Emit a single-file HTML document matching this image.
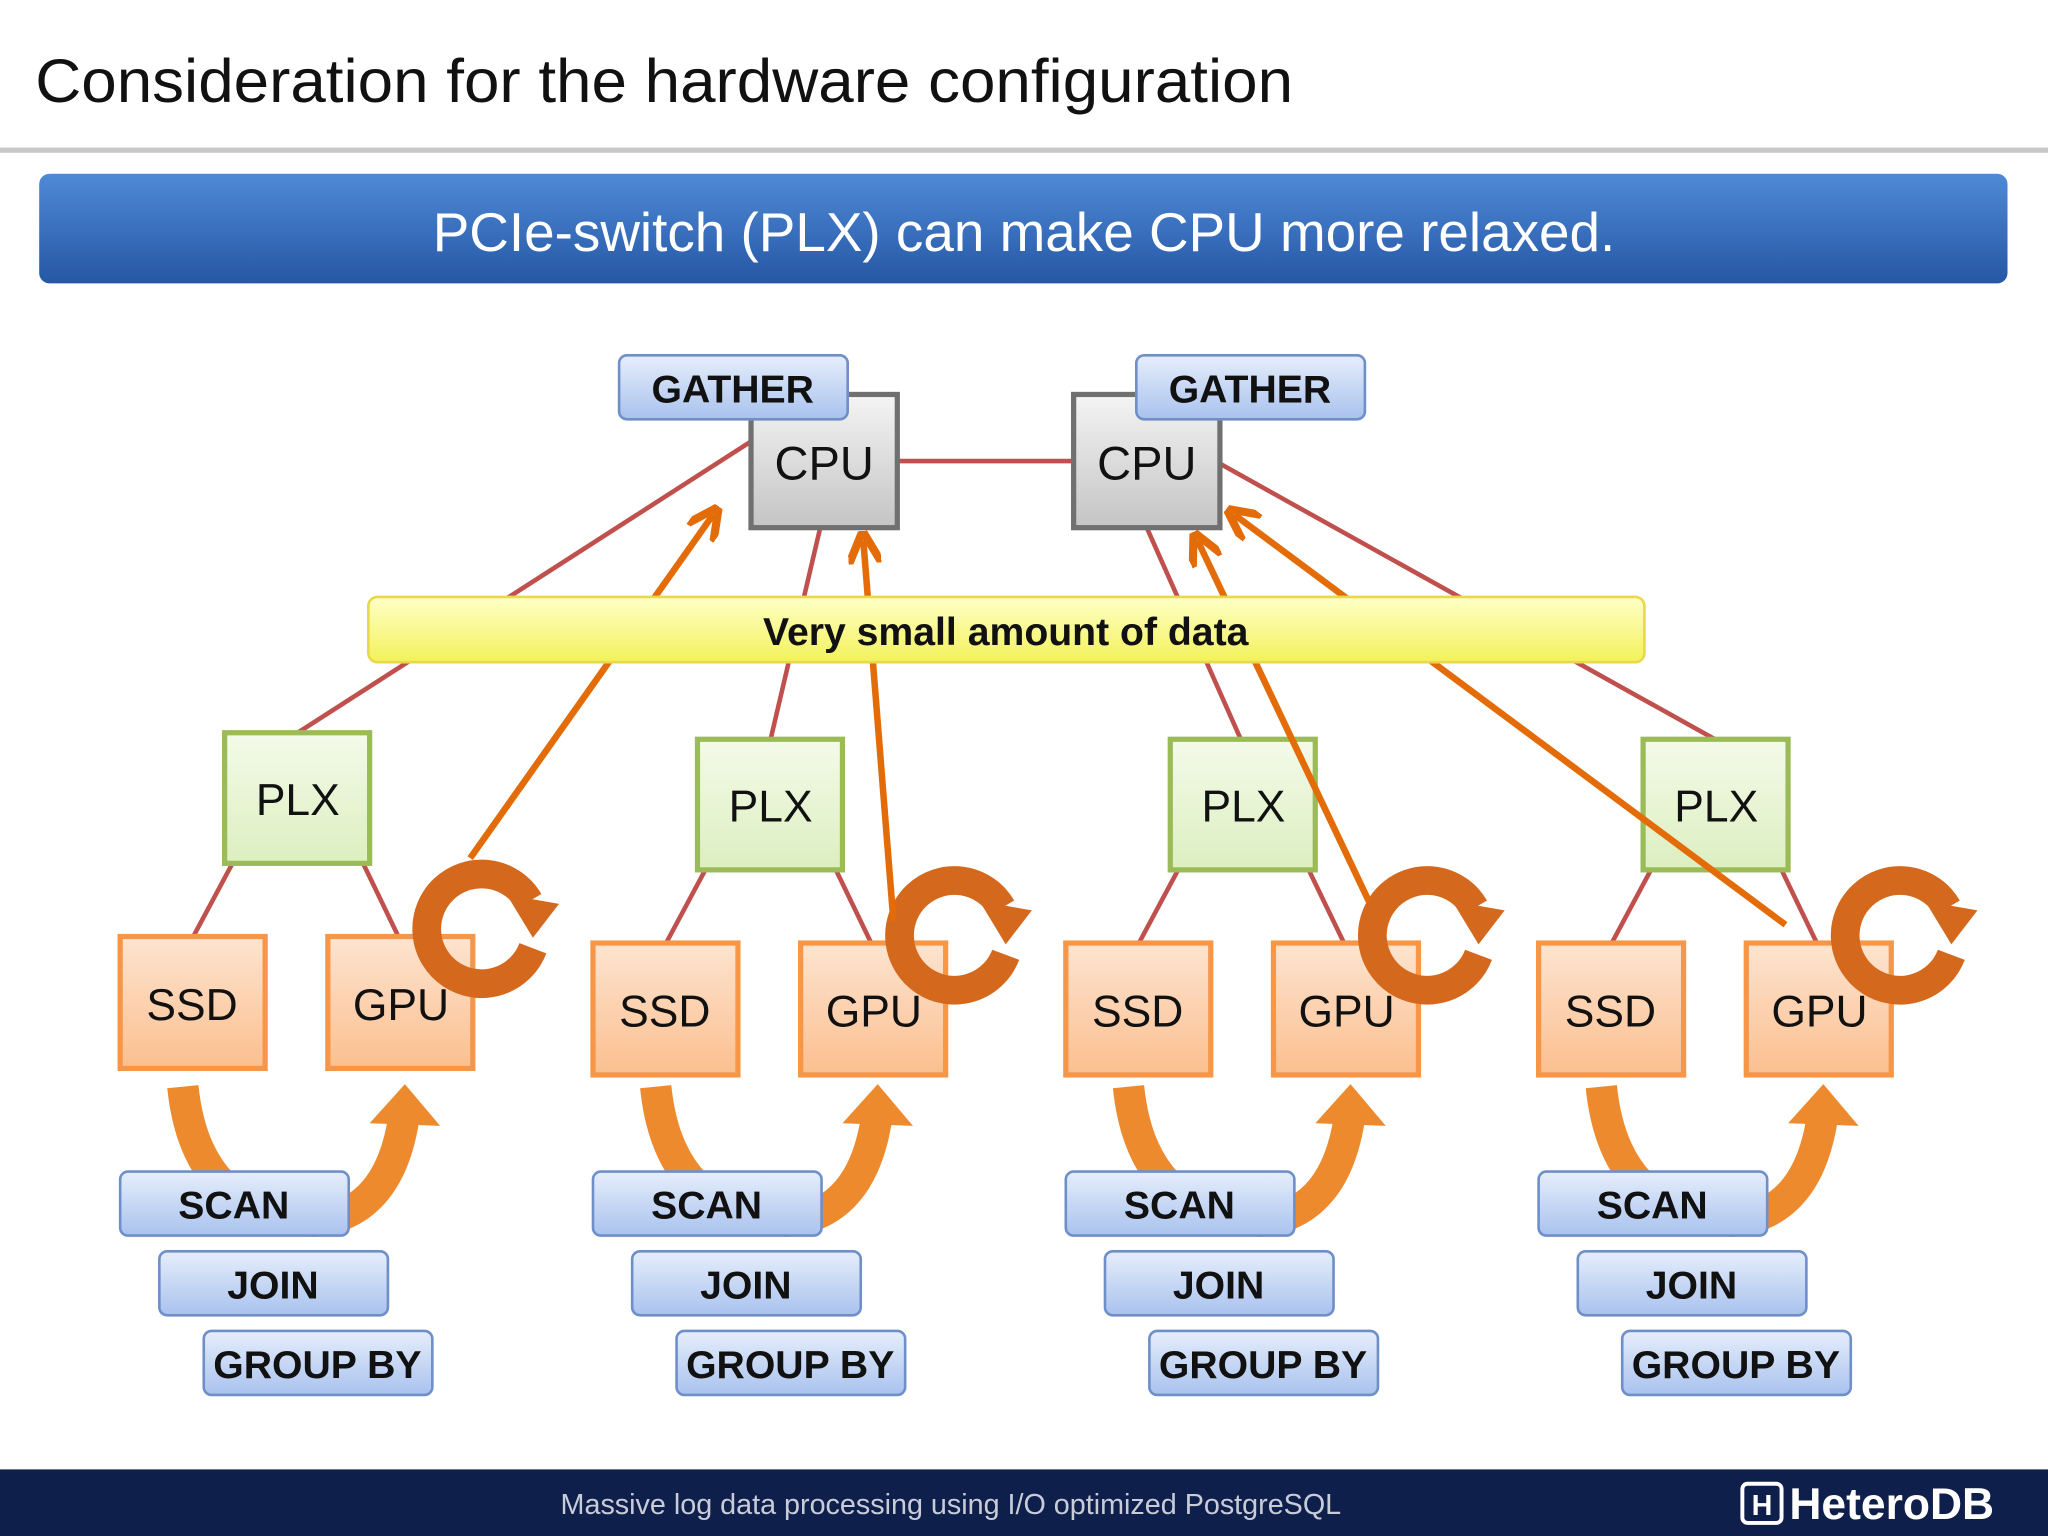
<!DOCTYPE html>
<html><head><meta charset="utf-8"><style>
html,body{margin:0;padding:0;background:#fff;}
svg{display:block;}
text{font-family:"Liberation Sans",sans-serif;}
</style></head><body>
<svg width="2048" height="1536" viewBox="0 0 1568 1176" xmlns="http://www.w3.org/2000/svg">
<defs>
<linearGradient id="ban" x1="0" y1="0" x2="0" y2="1"><stop offset="0" stop-color="#4f8ad6"/><stop offset="1" stop-color="#2557a5"/></linearGradient>
<linearGradient id="cpu" x1="0" y1="0" x2="0" y2="1"><stop offset="0" stop-color="#f4f4f4"/><stop offset="1" stop-color="#c4c4c4"/></linearGradient>
<linearGradient id="lb" x1="0" y1="0" x2="0" y2="1"><stop offset="0" stop-color="#e6eefb"/><stop offset="1" stop-color="#a9c2ee"/></linearGradient>
<linearGradient id="yl" x1="0" y1="0" x2="0" y2="1"><stop offset="0" stop-color="#ffffc8"/><stop offset="1" stop-color="#f2f25a"/></linearGradient>
<linearGradient id="gr" x1="0" y1="0" x2="0" y2="1"><stop offset="0" stop-color="#f4fae9"/><stop offset="1" stop-color="#dcefc0"/></linearGradient>
<linearGradient id="or" x1="0" y1="0" x2="0" y2="1"><stop offset="0" stop-color="#fde4d0"/><stop offset="1" stop-color="#fbbf8f"/></linearGradient>
<marker id="ah" viewBox="0 0 10 10" refX="7" refY="5" markerWidth="5" markerHeight="5" orient="auto"><path d="M0,0 L10,5 L0,10" fill="none" stroke="#e36c09" stroke-width="2.5"/></marker>
</defs>
<text x="27" y="78" font-size="47" fill="#111" textLength="963" lengthAdjust="spacingAndGlyphs">Consideration for the hardware configuration</text>
<rect x="0" y="113" width="1568" height="4" fill="#c8c8c8"/>
<rect x="30" y="133" width="1507" height="84" rx="8" fill="url(#ban)"/>
<text x="784" y="192" font-size="42" fill="#fff" text-anchor="middle">PCIe-switch (PLX) can make CPU more relaxed.</text>

<g stroke="#c0504d" stroke-width="3.5" fill="none">
<line x1="687" y1="353" x2="822" y2="353"/>
<line x1="575" y1="338" x2="228" y2="561"/>
<line x1="628" y1="404" x2="590" y2="566"/>
<line x1="878" y1="404" x2="950" y2="566"/>
<line x1="934" y1="355" x2="1313" y2="566"/>
</g>

<g id="bot0">
<path d="M140,832 Q150,930 240,935 Q300,930 310,850" fill="none" stroke="#ee8a2e" stroke-width="24"/>
<path d="M283,860 L310,830 L337,862 Z" fill="#ee8a2e"/>
<rect x="92" y="897" width="175" height="49" rx="6" fill="url(#lb)" stroke="#6f8fc8" stroke-width="2"/>
<text x="179" y="933" font-size="30" font-weight="bold" text-anchor="middle" fill="#111">SCAN</text>
<rect x="122" y="958" width="175" height="49" rx="6" fill="url(#lb)" stroke="#6f8fc8" stroke-width="2"/>
<text x="209" y="994" font-size="30" font-weight="bold" text-anchor="middle" fill="#111">JOIN</text>
<rect x="156" y="1019" width="175" height="49" rx="6" fill="url(#lb)" stroke="#6f8fc8" stroke-width="2"/>
<text x="243" y="1055" font-size="30" font-weight="bold" text-anchor="middle" fill="#111">GROUP BY</text>
</g>
<use href="#bot0" transform="translate(362,0)"/>
<use href="#bot0" transform="translate(724,0)"/>
<use href="#bot0" transform="translate(1086,0)"/>

<g id="grp0">
<g stroke="#c0504d" stroke-width="3.5"><line x1="178" y1="661" x2="148" y2="717"/><line x1="278" y1="661" x2="305" y2="717"/></g>
<rect x="172" y="561" width="111" height="100" fill="url(#gr)" stroke="#9bbb59" stroke-width="4"/>
<text x="228" y="624" font-size="34" text-anchor="middle" fill="#111">PLX</text>
<rect x="92" y="717" width="111" height="101" fill="url(#or)" stroke="#f79646" stroke-width="4"/>
<text x="147" y="781" font-size="34" text-anchor="middle" fill="#111">SSD</text>
<rect x="251" y="717" width="111" height="101" fill="url(#or)" stroke="#f79646" stroke-width="4"/>
<text x="307" y="781" font-size="34" text-anchor="middle" fill="#111">GPU</text>
<path d="M405,690 A42,42 0 1 0 408,726" fill="none" stroke="#d4691e" stroke-width="22"/>
<path d="M388,685 L428,692 L408,718 Z" fill="#d4691e"/>
</g>
<use href="#grp0" transform="translate(362,5)"/>
<use href="#grp0" transform="translate(724,5)"/>
<use href="#grp0" transform="translate(1086,5)"/>

<g stroke="#e36c09" stroke-width="5" fill="none" marker-end="url(#ah)">
<line x1="360" y1="657" x2="546" y2="394"/>
<line x1="684" y1="705" x2="661" y2="414"/>
<line x1="1048" y1="690" x2="917" y2="414"/>
<line x1="1367" y1="708" x2="945" y2="394"/>
</g>

<rect x="282" y="457" width="977" height="50" rx="7" fill="url(#yl)" stroke="#e8d84a" stroke-width="2"/>
<text x="770" y="494" font-size="30" font-weight="bold" text-anchor="middle" fill="#111">Very small amount of data</text>

<rect x="575" y="302" width="112" height="102" fill="url(#cpu)" stroke="#707070" stroke-width="4"/>
<text x="631" y="367" font-size="36" text-anchor="middle" fill="#111">CPU</text>
<rect x="822" y="302" width="112" height="102" fill="url(#cpu)" stroke="#707070" stroke-width="4"/>
<text x="878" y="367" font-size="36" text-anchor="middle" fill="#111">CPU</text>
<rect x="474" y="272" width="175" height="49" rx="6" fill="url(#lb)" stroke="#6f8fc8" stroke-width="2"/>
<text x="561" y="308" font-size="30" font-weight="bold" text-anchor="middle" fill="#111">GATHER</text>
<rect x="870" y="272" width="175" height="49" rx="6" fill="url(#lb)" stroke="#6f8fc8" stroke-width="2"/>
<text x="957" y="308" font-size="30" font-weight="bold" text-anchor="middle" fill="#111">GATHER</text>

<rect x="0" y="1125" width="1568" height="51" fill="#0f1f4b"/>
<text x="728" y="1159" font-size="22" text-anchor="middle" fill="#c8ccd8">Massive log data processing using I/O optimized PostgreSQL</text>
<rect x="1334" y="1136" width="30" height="30" rx="4" fill="none" stroke="#fff" stroke-width="3"/>
<text x="1349" y="1160" font-size="22" font-weight="bold" text-anchor="middle" fill="#fff">H</text>
<text x="1370" y="1163" font-size="34" font-weight="bold" fill="#fff">HeteroDB</text>
</svg>
</body></html>
